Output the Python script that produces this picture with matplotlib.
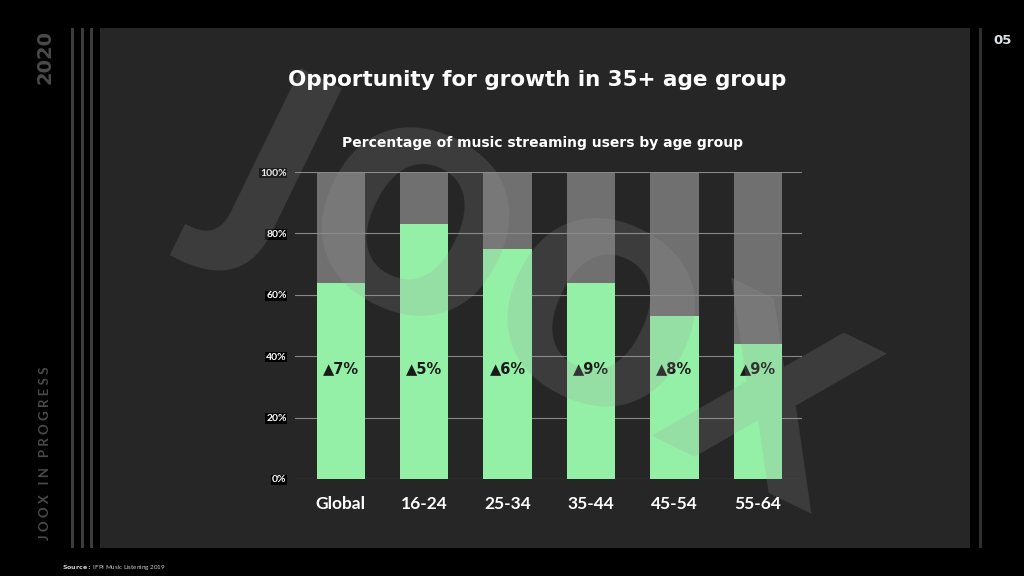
import matplotlib.pyplot as plt
from matplotlib.patches import Rectangle
import numpy as np

# data
groups = ['Global', '16-24', '25-34', '35-44', '45-54', '55-64']
users_pct = [64, 83, 75, 64, 53, 44]
growth = ['7%', '5%', '6%', '9%', '8%', '9%']
yticks = [0, 20, 40, 60, 80, 100]

green = '#95f0a7'
plt.rcParams['font.family'] = ['Lato', 'DejaVu Sans']

fig = plt.figure(figsize=(10.24, 5.76), dpi=100)
fig.patch.set_facecolor('black')

W, H = 1024, 576
def fx(x): return x / W
def fy(y): return 1 - y / H

# dark panel + stripes
fig.patches.append(Rectangle((fx(100), fy(548)), fx(970) - fx(100), fy(28) - fy(548),
                             transform=fig.transFigure, facecolor='#262626', zorder=-2))
for x0 in [71, 81, 90]:
    fig.patches.append(Rectangle((fx(x0), fy(548)), fx(3), fy(28) - fy(548),
                                 transform=fig.transFigure, facecolor='#3c3c3c', zorder=-2))
fig.patches.append(Rectangle((fx(979), fy(548)), fx(3), fy(28) - fy(548),
                             transform=fig.transFigure, facecolor='#2e2e2e', zorder=-2))

# watermark
fig.text(fx(540), fy(300), 'JOOX', fontsize=175, fontweight='bold', color='#9a9a9a',
         alpha=0.2, rotation=-26, ha='center', va='center', zorder=2, family='DejaVu Sans')

fig.text(fx(45), fy(57), '2020', rotation=90, color='#4a4a4a', fontsize=14,
         fontweight='bold', ha='center', va='center', family='DejaVu Sans')
fig.text(fx(45), fy(453), 'J O O X   I N   P R O G R E S S', rotation=90, color='#4a4a4a',
         fontsize=9.5, fontweight='bold', ha='center', va='center')
fig.text(fx(1003), fy(41), '05', color='#dde3e6', fontsize=9.5, fontweight='bold',
         ha='center', va='center', family='DejaVu Sans')
fig.text(fx(62), fy(567), r'$\bf{Source:}$ IFPI Music Listening 2019', color='#cccccc',
         fontsize=4.5, ha='left', va='center')

fig.text(fx(537), fy(80), 'Opportunity for growth in 35+ age group', color='white',
         fontsize=15.5, fontweight='bold', ha='center', va='center', family='DejaVu Sans')
fig.text(fx(543), fy(143), 'Percentage of music streaming users by age group', color='white',
         fontsize=10, fontweight='bold', ha='center', va='center', family='DejaVu Sans')

ax = fig.add_axes([fx(295), fy(479), fx(802) - fx(295), fy(172) - fy(479)])
ax.set_zorder(1)
ax.set_facecolor('none')
x = np.arange(len(groups))
ax.bar(x, [100] * len(groups), width=0.58, color='#8a8a8a', alpha=0.75, zorder=2)
ax.bar(x, users_pct, width=0.58, color=green, zorder=3)
for i, g in enumerate(growth):
    ax.text(i, 36, '▲' + g, ha='center', va='center', fontsize=10.5, fontweight='bold',
            color='#1a1a1a', zorder=4, family='DejaVu Sans')

ax.set_xlim(-0.55, 5.53)
ax.set_ylim(0, 100)
ax.set_yticks(yticks)
ax.set_yticklabels([f'{v}%' for v in yticks], color='white', fontsize=7.5, fontweight='bold')
for lbl in ax.get_yticklabels():
    lbl.set_bbox(dict(facecolor='black', edgecolor='none', pad=0.5))
ax.set_xticks(x)
ax.set_xticklabels(groups, color='white', fontsize=12.5, fontweight='bold')
ax.tick_params(length=0, axis='both')
ax.tick_params(axis='x', pad=12)
ax.tick_params(axis='y', pad=6)
ax.grid(axis='y', color='#888888', linewidth=0.8, zorder=1)
for s in ax.spines.values():
    s.set_visible(False)

fig.savefig('out.png', dpi=100, facecolor='black')
